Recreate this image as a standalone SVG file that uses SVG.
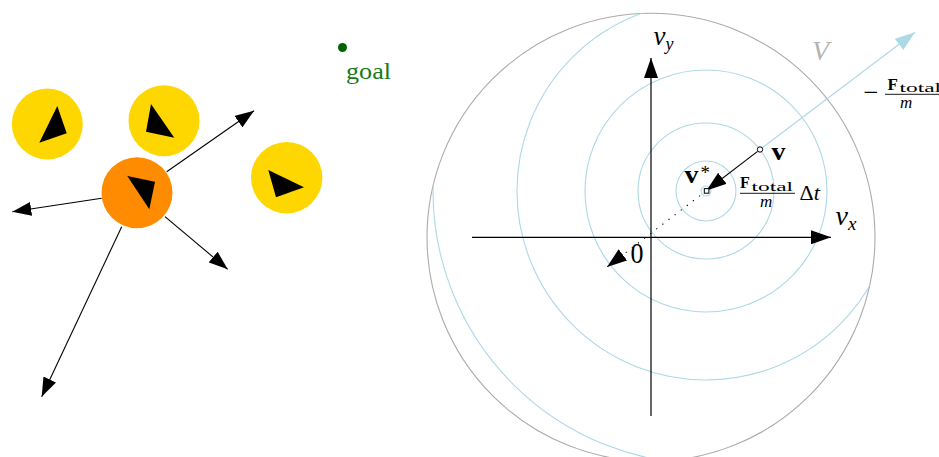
<svg xmlns="http://www.w3.org/2000/svg" width="939" height="457" viewBox="0 0 939 457">
<style>
.ag{fill:#FFD700}
.ao{fill:#FF8C00}
.tri{fill:#000}
.arr{stroke:#000;stroke-width:1.1;fill:none}
.blue{stroke:#ADD8E6;stroke-width:1.1;fill:none}
.serif{font-family:"Liberation Serif","DejaVu Serif",serif}
.it{font-style:italic}
.bd{font-weight:bold}
</style>
<defs>
<marker id="ah" viewBox="0 -7 20 14" refX="20" refY="0" markerWidth="20" markerHeight="14" markerUnits="userSpaceOnUse" orient="auto">
<path d="M0,-7 L20,0 L0,7 z" fill="#000"/>
</marker>
<marker id="ahs" viewBox="0 -7 19 14" refX="19" refY="0" markerWidth="19" markerHeight="14" markerUnits="userSpaceOnUse" orient="auto">
<path d="M0,-7 L19,0 L0,7 z" fill="#000"/>
</marker>
<marker id="ahb" viewBox="0 -7 20 14" refX="20" refY="0" markerWidth="20" markerHeight="14" markerUnits="userSpaceOnUse" orient="auto">
<path d="M0,-7 L20,0 L0,7 z" fill="#ADD8E6"/>
</marker>
<clipPath id="vc"><circle cx="651" cy="237.3" r="224"/></clipPath>
</defs>
<rect width="939" height="457" fill="#fff"/>

<!-- left scene -->
<g id="agent1"><circle class="ag" cx="47.3" cy="124" r="35.5"/><polygon class="tri" points="57.3,106 39.3,142.7 66.7,133.3"/></g>
<g id="agent2"><circle class="ag" cx="164" cy="120.7" r="35.5"/><polygon class="tri" points="151,104 146,131.7 174.3,137.7"/></g>
<g id="agent3"><circle class="ag" cx="286.7" cy="177.7" r="35.7"/><polygon class="tri" points="268.3,170 276,197.3 304,187.3"/></g>
<g id="self"><circle class="ao" cx="137" cy="192.7" r="35.5"/><polygon class="tri" points="127.3,176 155,181.7 149.3,209.3"/></g>
<g id="goal"><circle cx="342.5" cy="47.5" r="4.5" fill="#006400"/><text class="serif" x="346" y="79" font-size="23" fill="#177a17" textLength="45" lengthAdjust="spacingAndGlyphs">goal</text></g>
<g id="forces">
<line class="arr" x1="166.7" y1="171.7" x2="254" y2="110.7" marker-end="url(#ahs)"/>
<line class="arr" x1="101.7" y1="198.3" x2="12.3" y2="211.7" marker-end="url(#ahs)"/>
<line class="arr" x1="165" y1="216.7" x2="227.7" y2="269.3" marker-end="url(#ahs)"/>
<line class="arr" x1="121.7" y1="226.7" x2="41.7" y2="396.7" marker-end="url(#ahs)"/>
</g>

<!-- right: velocity space -->
<g id="region">
<circle cx="651" cy="237.3" r="224" fill="none" stroke="#ABABAB" stroke-width="1.1"/>
<text class="serif it" x="812" y="60" font-size="28" fill="#B4B4B4">V</text>
</g>
<g id="contours" clip-path="url(#vc)">
<circle class="blue" cx="706" cy="191" r="5"/>
<circle class="blue" cx="706" cy="191" r="30"/>
<circle class="blue" cx="706" cy="191" r="68"/>
<circle class="blue" cx="706" cy="191" r="121"/>
<circle class="blue" cx="706" cy="191" r="189"/>
<circle class="blue" cx="706" cy="191" r="273"/>
</g>
<g id="axes">
<line x1="472" y1="237.3" x2="831" y2="237.3" stroke="#000" stroke-width="1.2" marker-end="url(#ah)"/>
<line x1="651" y1="416" x2="651" y2="58" stroke="#000" stroke-width="1.2" marker-end="url(#ah)"/>
<text class="serif it" x="653.5" y="45" font-size="27">v<tspan font-size="18" dy="5">y</tspan></text>
<text class="serif it" x="835.5" y="225" font-size="28">v<tspan font-size="19" dy="5">x</tspan></text>
<text class="serif" x="630.5" y="263" font-size="29" textLength="13" lengthAdjust="spacingAndGlyphs">0</text>
</g>
<g id="connectors">
<line x1="760" y1="149.5" x2="915" y2="32.3" stroke="#ADD8E6" stroke-width="1.1" marker-end="url(#ahb)"/>
<line x1="757.6" y1="151.4" x2="706.5" y2="190.5" stroke="#000" stroke-width="1.1" marker-end="url(#ah)"/>
<line x1="700" y1="195.6" x2="607" y2="267" stroke="#000" stroke-width="1.1" stroke-dasharray="1.2 6.5" marker-end="url(#ah)"/>
</g>
<g id="v">
<circle cx="760" cy="149.5" r="2.7" fill="#fff" stroke="#000" stroke-width="1"/>
<text class="serif bd" x="771.5" y="160" font-size="25" textLength="14" lengthAdjust="spacingAndGlyphs">v</text>
</g>
<g id="vstar">
<rect x="704.3" y="188.6" width="4.6" height="4.6" fill="#fff" stroke="#000" stroke-width="1"/>
<text class="serif bd" x="684.5" y="183.3" font-size="25" textLength="14" lengthAdjust="spacingAndGlyphs">v</text>
<text class="serif" x="700.5" y="179" font-size="19" fill="#000">*</text>
</g>
<g id="dv-label">
<text class="serif bd" x="740" y="188.3" font-size="16">F</text>
<text class="serif" x="751.5" y="190.5" font-size="13" textLength="41.5" lengthAdjust="spacingAndGlyphs">total</text>
<line x1="740" y1="193.3" x2="795" y2="193.3" stroke="#000" stroke-width="0.9"/>
<text class="serif it" x="760" y="206.7" font-size="17">m</text>
<text class="serif" x="799.5" y="200" font-size="22">Δ<tspan class="it">t</tspan></text>
</g>
<g id="grad-label">
<text class="serif" x="863.5" y="100.5" font-size="26" textLength="15" lengthAdjust="spacingAndGlyphs">−</text>
<text class="serif bd" x="887.5" y="90" font-size="17">F</text>
<text class="serif" x="899.5" y="91.7" font-size="13" textLength="41.5" lengthAdjust="spacingAndGlyphs">total</text>
<line x1="885" y1="94.3" x2="939" y2="94.3" stroke="#000" stroke-width="0.9"/>
<text class="serif it" x="900" y="108" font-size="17">m</text>
</g>
</svg>
